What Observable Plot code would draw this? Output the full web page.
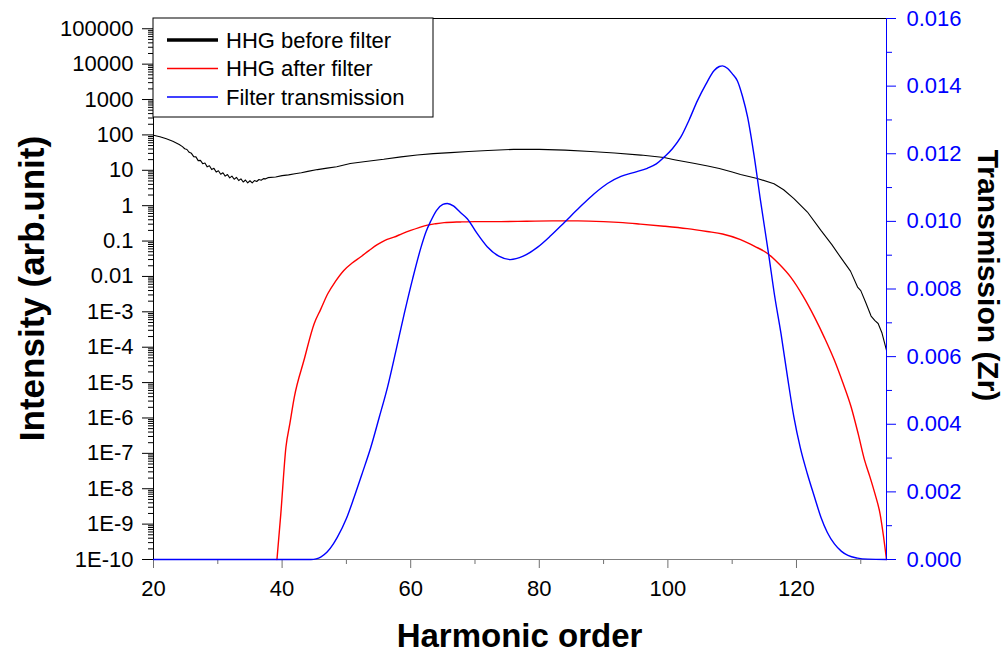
<!DOCTYPE html>
<html><head><meta charset="utf-8">
<script src="https://cdn.jsdelivr.net/npm/d3@7"></script>
<script src="https://cdn.jsdelivr.net/npm/@observablehq/plot@0.6"></script>
<style>
html,body{margin:0;padding:0;background:#fff;}
#chart{position:relative;width:1008px;height:656px;overflow:hidden;background:#fff;}
#chart svg{position:absolute;left:0;top:0;}
</style></head><body><div id="chart"></div>
<script>
// ---- Data ----
const seriesNames = ["HHG before filter", "HHG after filter", "Filter transmission"];
const seriesColors = ["#000000", "#ff0000", "#0000ff"];
const seriesWidths = [3.5, 1.3, 1.3];

// HHG before filter: harmonic order and log10(intensity)
const beforeX = [20, 21, 22, 23, 24, 24.5, 24.85, 25.2, 25.55, 25.9, 26.25, 26.6, 26.95, 27.3, 27.65, 28, 28.35, 28.7, 29.05, 29.4, 29.75, 30.1, 30.45, 30.8, 31.15, 31.5, 31.85, 32.2, 32.55, 32.9, 33.25, 33.6, 33.95, 34.3, 34.65, 35, 35.35, 35.7, 36.05, 36.4, 36.75, 37.1, 37.45, 37.8, 39, 40, 41, 42, 43, 44, 45.5, 47, 48.5, 50.6, 53, 55.8, 58.5, 61, 63.5, 66.2, 69, 72, 76, 80, 84, 88, 91.7, 95.8, 99.4, 101, 104, 106.2, 108, 110, 111.3, 113.9, 116.5, 118, 119.6, 121.7, 123.8, 125.5, 126.9, 128.4, 129.5, 130, 130.8, 131.6, 132.2, 132.7, 133.3, 134];
const beforeLog10 = [1.99, 1.95, 1.89, 1.82, 1.73, 1.670, 1.609, 1.587, 1.508, 1.479, 1.385, 1.379, 1.273, 1.279, 1.187, 1.205, 1.097, 1.128, 1.020, 1.055, 0.950, 0.987, 0.889, 0.931, 0.835, 0.880, 0.786, 0.835, 0.748, 0.800, 0.710, 0.759, 0.668, 0.726, 0.646, 0.705, 0.646, 0.711, 0.683, 0.740, 0.718, 0.764, 0.758, 0.792, 0.81, 0.85, 0.87, 0.90, 0.93, 0.97, 1.02, 1.06, 1.10, 1.19, 1.25, 1.31, 1.38, 1.43, 1.47, 1.50, 1.53, 1.56, 1.59, 1.59, 1.57, 1.53, 1.49, 1.43, 1.36, 1.30, 1.20, 1.12, 1.05, 0.95, 0.88, 0.77, 0.62, 0.45, 0.20, -0.18, -0.70, -1.10, -1.47, -1.85, -2.30, -2.40, -2.75, -3.12, -3.25, -3.33, -3.60, -4.09];

// HHG after filter: harmonic order and log10(intensity)
const afterX = [39.2, 39.8, 40.6, 41.2, 41.9, 43.4, 45, 46, 47.1, 48.3, 49.6, 50.9, 52.2, 53.5, 54.8, 56, 57.4, 58.7, 60, 61.3, 62.6, 63.9, 65.2, 67.7, 70, 74, 78, 82, 86, 90, 93, 95.7, 99.4, 103, 106.1, 108.5, 111.3, 113.5, 115.5, 117.3, 119.1, 121, 122.8, 124.4, 125.9, 127.2, 128.5, 129.6, 130.6, 131.4, 132.2, 133, 133.5, 134];
const afterLog10 = [-10, -8.71, -6.82, -6.17, -5.41, -4.37, -3.33, -2.93, -2.49, -2.14, -1.83, -1.62, -1.45, -1.27, -1.10, -0.98, -0.89, -0.79, -0.70, -0.62, -0.55, -0.51, -0.48, -0.46, -0.45, -0.45, -0.44, -0.43, -0.43, -0.45, -0.48, -0.52, -0.58, -0.65, -0.73, -0.80, -0.96, -1.15, -1.35, -1.65, -2.02, -2.55, -3.15, -3.75, -4.37, -5.00, -5.69, -6.45, -7.20, -7.65, -8.14, -8.71, -9.30, -10];

// Filter transmission (Zr)
const transX = [20, 44.5, 45.3, 46, 47, 48, 48.6, 50, 51.2, 52.5, 53.8, 55.1, 56.4, 57.7, 59, 60.3, 61.6, 62.4, 63.1, 64, 65, 65.7, 66.7, 67.7, 68.8, 70.3, 71.9, 73.7, 75.5, 77.5, 79.7, 81.8, 83.9, 86.2, 88.5, 90.6, 92.7, 94.8, 96.8, 98.2, 99.4, 100.7, 102, 103.3, 104.6, 105.9, 107.2, 108, 108.5, 109.3, 110, 110.8, 111.6, 112.4, 113.4, 114.4, 115.7, 116.6, 117.6, 118.6, 119.6, 120.6, 121.7, 122.8, 123.8, 124.8, 125.9, 127, 128, 129.5, 131.1, 134];
const transY = [0, 0, 0.00002, 0.00007, 0.00022, 0.00047, 0.00066, 0.00121, 0.00184, 0.00257, 0.00332, 0.00420, 0.00510, 0.00617, 0.00727, 0.00830, 0.00923, 0.00970, 0.01000, 0.01032, 0.01050, 0.01053, 0.01045, 0.01027, 0.01008, 0.00965, 0.00925, 0.00897, 0.00887, 0.00897, 0.00923, 0.00958, 0.00997, 0.01040, 0.01081, 0.01112, 0.01133, 0.01145, 0.01157, 0.01170, 0.01190, 0.01215, 0.01249, 0.01300, 0.01357, 0.01405, 0.01446, 0.01458, 0.01460, 0.01452, 0.01437, 0.01416, 0.01370, 0.01308, 0.01195, 0.01062, 0.00899, 0.00780, 0.00667, 0.00540, 0.00421, 0.00330, 0.00253, 0.00185, 0.00125, 0.00080, 0.00046, 0.00024, 0.00012, 0.00004, 0.00001, 0];

// Ticks
const xTicks = [20, 40, 60, 80, 100, 120];
const xMinorTicks = [30, 50, 70, 90, 110, 130];
const yTickValues = [1e5, 1e4, 1e3, 100, 10, 1, 0.1, 0.01, 1e-3, 1e-4, 1e-5, 1e-6, 1e-7, 1e-8, 1e-9, 1e-10];
const yTickLabels = ["100000", "10000", "1000", "100", "10", "1", "0.1", "0.01", "1E-3", "1E-4", "1E-5", "1E-6", "1E-7", "1E-8", "1E-9", "1E-10"];
const tTicks = [0, 0.002, 0.004, 0.006, 0.008, 0.010, 0.012, 0.014, 0.016];
const tMinorTicks = [0.001, 0.003, 0.005, 0.007, 0.009, 0.011, 0.013, 0.015];
const xLabel = "Harmonic order";
const yLabel = "Intensity (arb.unit)";
const y2Label = "Transmission (Zr)";

// ---- Build ----
const W = 1008, H = 656;
const M = {top: 18, right: 122, bottom: 97, left: 153};
const PW = W - M.left - M.right, PH = H - M.top - M.bottom;
const font = "'Liberation Sans', Arial, Helvetica, sans-serif";
const xDomain = [20, 134];
const yDomain = [1e-10, Math.pow(10, 5.29)];
const tDomain = [0, 0.016];
const axisGrey = "#707070";

const before = beforeX.map((x, i) => ({x, y: Math.pow(10, beforeLog10[i])}));
const after = afterX.map((x, i) => ({x, y: Math.pow(10, afterLog10[i])}));
const trans = transX.map((x, i) => ({x, y: transY[i]}));

const yMinor = [];
for (let k = -10; k < 5; k++) for (let m = 2; m <= 9; m++) yMinor.push(m * Math.pow(10, k));

const common = {
  width: W, height: H,
  marginTop: M.top, marginRight: M.right, marginBottom: M.bottom, marginLeft: M.left,
  style: {fontFamily: font, fontSize: "22px", background: "transparent", color: "black", overflow: "visible"}
};

const p1 = Plot.plot({
  ...common,
  x: {domain: xDomain},
  y: {type: "log", domain: yDomain},
  marks: [
    Plot.frame({anchor: "top", stroke: "black"}),
    Plot.frame({anchor: "left", stroke: "black"}),
    Plot.tickY(yMinor, {y: d => d, insetRight: PW - 5, dx: -5, stroke: "black", strokeWidth: 1}),
    Plot.axisY({ticks: yTickValues, tickSize: 11, tickPadding: 9, label: null, color: "black",
      tickFormat: d => yTickLabels[yTickValues.indexOf(d)]}),
    Plot.tickX(xMinorTicks, {x: d => d, insetTop: PH - 5, dy: 5, stroke: axisGrey}),
    Plot.tickX(xTicks, {x: d => d, insetTop: PH - 9, dy: 9, stroke: axisGrey}),
    Plot.axisX({ticks: xTicks, tickSize: 0, tickPadding: 21, label: null, color: "black"}),
    Plot.frame({anchor: "bottom", stroke: "#808080"}),
    Plot.line(before, {x: "x", y: "y", stroke: seriesColors[0], strokeWidth: 1.1}),
    Plot.line(after, {x: "x", y: "y", stroke: seriesColors[1], strokeWidth: 1.4, curve: "monotone-x"})
  ]
});

const p2 = Plot.plot({
  ...common,
  x: {domain: xDomain, axis: null},
  y: {domain: tDomain},
  marks: [
    Plot.frame({anchor: "right", stroke: seriesColors[2]}),
    Plot.tickY(tMinorTicks, {y: d => d, insetLeft: PW - 6, dx: 6, stroke: seriesColors[2]}),
    Plot.axisY({anchor: "right", ticks: tTicks, tickSize: 9, tickPadding: 11, tickFormat: d3.format(".3f"), label: null, color: seriesColors[2]}),
    Plot.line(trans, {x: "x", y: "y", stroke: seriesColors[2], strokeWidth: 1.4, curve: "monotone-x"})
  ]
});

const chart = document.getElementById("chart");
chart.appendChild(p1);
chart.appendChild(p2);

// ---- Titles and legend ----
const svg = d3.select(p2);
const plotCX = (M.left + (W - M.right)) / 2;
const plotCY = (M.top + (H - M.bottom)) / 2;
svg.append("text").text(xLabel)
  .attr("x", plotCX).attr("y", 647)
  .attr("text-anchor", "middle").attr("font-weight", "bold").attr("font-size", 33)
  .attr("font-family", font).attr("fill", "black");
svg.append("text").text(yLabel)
  .attr("transform", `translate(44,${plotCY}) rotate(-90)`)
  .attr("text-anchor", "middle").attr("font-weight", "bold").attr("font-size", 35)
  .attr("font-family", font).attr("fill", "black");
svg.append("text").text(y2Label)
  .attr("transform", `translate(978,${plotCY - 13}) rotate(90)`)
  .attr("text-anchor", "middle").attr("font-weight", "bold").attr("font-size", 30)
  .attr("font-family", font).attr("fill", "black");

const lg = svg.append("g").attr("text-anchor", "start");
lg.append("rect").attr("x", M.left).attr("y", M.top).attr("width", 280).attr("height", 99)
  .attr("fill", "white").attr("stroke", "black").attr("stroke-width", 1);
seriesNames.forEach((name, i) => {
  const yy = 40 + i * 28.5;
  lg.append("line").attr("x1", 167).attr("x2", 218).attr("y1", yy).attr("y2", yy)
    .attr("stroke", seriesColors[i]).attr("stroke-width", seriesWidths[i]);
  lg.append("text").text(name).attr("x", 226).attr("y", yy).attr("dy", "0.35em")
    .attr("text-anchor", "start")
    .attr("font-size", 22).attr("font-family", font).attr("fill", "black");
});
</script>
</body></html>
